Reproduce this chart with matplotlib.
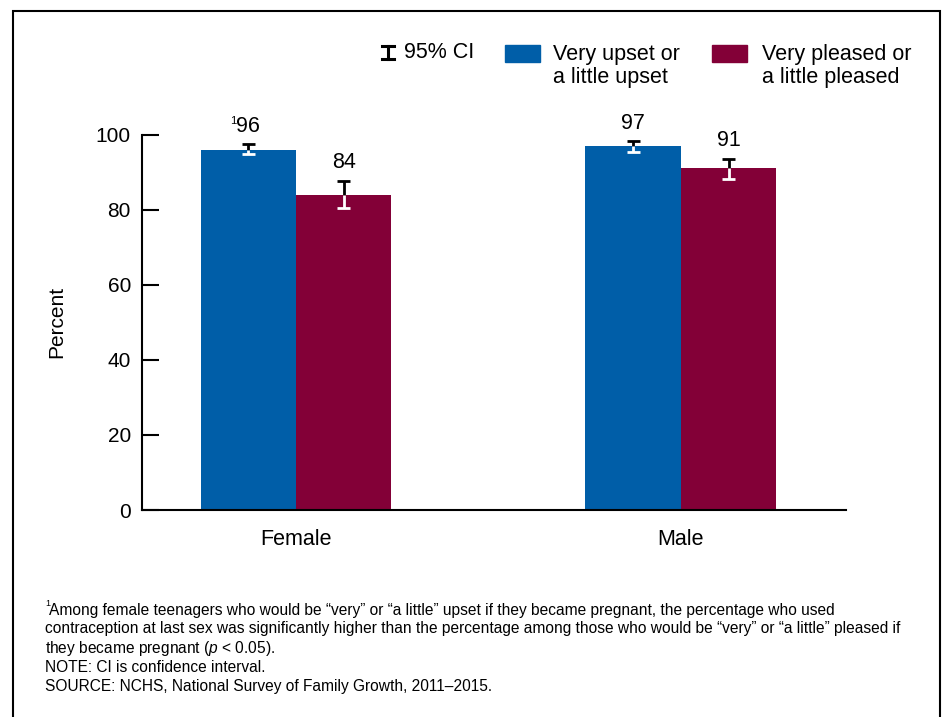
import matplotlib.pyplot as plt
from matplotlib.patches import Rectangle
from matplotlib.lines import Line2D
import numpy as np

plt.rcParams['font.family'] = ['Liberation Sans', 'DejaVu Sans']
plt.rcParams['mathtext.fontset'] = 'custom'
plt.rcParams['mathtext.rm'] = 'Liberation Sans'
plt.rcParams['mathtext.it'] = 'Liberation Sans:italic'

# contraception use at last sex, by feeling about a pregnancy
groups = ['Female', 'Male']
series = ['Very upset or\na little upset', 'Very pleased or\na little pleased']
colors = ['#005EA8', '#830037']
upset = [96, 97]
upset_lo = [94.9, 95.4]
upset_hi = [97.5, 98.2]
pleased = [84, 91]
pleased_lo = [80.6, 88.3]
pleased_hi = [87.7, 93.6]
yticks = [0, 20, 40, 60, 80, 100]

footnotes = [
    'Among female teenagers who would be \u201cvery\u201d or \u201ca little\u201d upset if they became pregnant, the percentage who used',
    'contraception at last sex was significantly higher than the percentage among those who would be \u201cvery\u201d or \u201ca little\u201d pleased if',
    'they became pregnant ($\\mathit{p}$ < 0.05).',
    'NOTE: CI is confidence interval.',
    'SOURCE: NCHS, National Survey of Family Growth, 2011\u20132015.',
]

fig = plt.figure(figsize=(9.43, 7.17), dpi=100)
ax = fig.add_axes([0.1506, 0.2887, 0.7465, 0.5234])

x = np.arange(len(groups))
width = 0.248
vals = [upset, pleased]
los = [upset_lo, pleased_lo]
his = [upset_hi, pleased_hi]
offsets = [-width / 2, width / 2]
cap = 0.017

for s in range(2):
    xs = x + offsets[s]
    ax.bar(xs, vals[s], width, color=colors[s], zorder=2)
    for i in range(len(groups)):
        v, lo, hi = vals[s][i], los[s][i], his[s][i]
        # part of the interval above the bar is black, inside the bar white
        ax.vlines(xs[i], v, hi, color='black', lw=2, zorder=3)
        ax.hlines(hi, xs[i] - cap, xs[i] + cap, color='black', lw=2, zorder=3)
        ax.vlines(xs[i], lo, v, color='white', lw=2, zorder=3)
        ax.hlines(lo, xs[i] - cap, xs[i] + cap, color='white', lw=2, zorder=3)
        ax.annotate('%d' % v, (xs[i], hi), xytext=(0, 9),
                    textcoords='offset points', ha='center', va='baseline',
                    fontsize=15.5)

# footnote marker on the female "upset" value
ax.annotate('1', (x[0] + offsets[0], upset_hi[0]), xytext=(-8.5, 20.5),
            textcoords='offset points', ha='right', va='top', fontsize=8)

ax.set_xlim(-0.4, 1.4286)
ax.set_ylim(0, 100)
ax.set_yticks(yticks)
ax.set_xticks(x)
ax.set_xticklabels(groups)
ax.tick_params(axis='y', direction='in', length=12, width=1.5, pad=8, labelsize=15)
ax.tick_params(axis='x', length=0, pad=14, labelsize=15.5)
for side in ['top', 'right']:
    ax.spines[side].set_visible(False)
for side in ['left', 'bottom']:
    ax.spines[side].set_linewidth(1.5)
ax.set_ylabel('Percent', fontsize=15)
ax.yaxis.set_label_coords(-0.107, 0.5)

# legend drawn by hand across the top
W, H = 943.0, 717.0
def fx(px):
    return px / W
def fy(py):
    return 1 - py / H

ci_x, ci_top, ci_bot = 388, 46, 59
fig.add_artist(Line2D([fx(ci_x), fx(ci_x)], [fy(ci_top), fy(ci_bot)], color='black', lw=2.2))
fig.add_artist(Line2D([fx(ci_x - 6), fx(ci_x + 6)], [fy(ci_top), fy(ci_top)], color='black', lw=2.2))
fig.add_artist(Line2D([fx(ci_x - 6), fx(ci_x + 6)], [fy(ci_bot), fy(ci_bot)], color='black', lw=2.2))
fig.text(fx(404), fy(53), '95% CI', fontsize=15.5, va='center', ha='left')

patch_x = [505, 712]
text_x = [553, 762]
for s in range(2):
    fig.add_artist(Rectangle((fx(patch_x[s]), fy(62)), 35 / W, 17 / H,
                             transform=fig.transFigure, color=colors[s]))
    fig.text(fx(text_x[s]), fy(66), series[s], fontsize=15.5, va='center',
             ha='left', linespacing=1.1)

foot_y = [610, 629, 648, 667, 686]
fig.text(fx(45), fy(604), '1', fontsize=6.5, va='center', ha='left')
for k, (line, yy) in enumerate(zip(footnotes, foot_y)):
    fig.text(fx(49 if k == 0 else 45), fy(yy), line, fontsize=11.2,
             va='center', ha='left')

# outer frame
fig.add_artist(Rectangle((fx(13), -0.1), fx(940) - fx(13), fy(11) + 0.1,
                         transform=fig.transFigure, fill=False,
                         edgecolor='black', lw=1.5))

fig.savefig('out.png', dpi=100)
